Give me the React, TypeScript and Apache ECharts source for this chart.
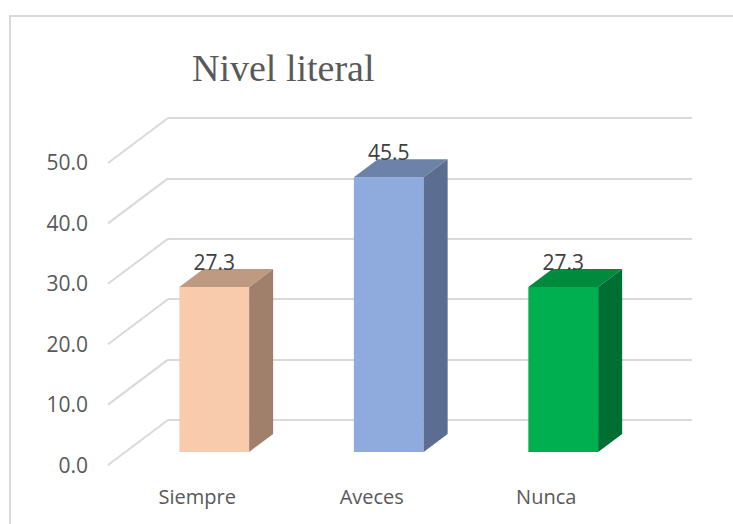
import React, { useEffect, useRef } from "react";
import * as echarts from "echarts";

const titleText = "Nivel literal";
const categories = ["Siempre", "Aveces", "Nunca"];
const values = [27.3, 45.5, 27.3];
const valueTicks = [0, 10, 20, 30, 40, 50];
const frontColors = ["#F8CBAD", "#8FAADC", "#00B050"];
const topColors = ["#BE9A82", "#6C82A8", "#008A3E"];
const sideColors = ["#A0806A", "#5B6E91", "#006F33"];

const W = 733;
const H = 524;
const DEPTH_X = 24;
const DEPTH_Y = 18;
const FLOOR_X = 60;
const FLOOR_Y = 45;
const GRID_COLOR = "#D9D9D9";

const axisOff = { show: false };

export default function App() {
  const ref = useRef<HTMLDivElement>(null);
  useEffect(() => {
    const chart = echarts.init(ref.current!, undefined, { renderer: "svg" });
    chart.setOption({
      animation: false,
      backgroundColor: "#ffffff",
      title: {
        text: titleText,
        left: 187,
        top: 44,
        textStyle: { fontFamily: "Liberation Serif", fontSize: 38, fontWeight: "normal", color: "#595959" },
      },
      graphic: [
        { type: "line", shape: { x1: 9, y1: 16, x2: W, y2: 16 }, style: { stroke: GRID_COLOR, lineWidth: 2 } },
        { type: "line", shape: { x1: 10, y1: 15, x2: 10, y2: H }, style: { stroke: GRID_COLOR, lineWidth: 2 } },
      ],
      grid: [
        { left: 127, width: 523.5, top: 150, height: 302 },
        { left: 168, width: 524, top: 118, height: 302 },
        { left: 110, width: 523.5, top: 162, height: 303 },
      ],
      xAxis: [
        { gridIndex: 0, type: "category", data: categories, ...axisOff },
        { gridIndex: 1, type: "value", min: 0, max: 1, ...axisOff },
        {
          gridIndex: 2,
          type: "category",
          data: categories,
          axisLine: { show: false },
          axisTick: { show: false },
          axisLabel: { margin: 21, fontFamily: "Open Sans", fontSize: 20, color: "#595959" },
        },
      ],
      yAxis: [
        { gridIndex: 0, type: "value", min: 0, max: 50, interval: 10, ...axisOff },
        {
          gridIndex: 1,
          type: "value",
          min: 0,
          max: 50,
          interval: 10,
          axisLine: { show: false },
          axisTick: { show: false },
          axisLabel: { show: false },
          splitLine: { show: true, lineStyle: { color: GRID_COLOR, width: 2 } },
        },
        {
          gridIndex: 2,
          type: "value",
          min: 0,
          max: 50,
          interval: 10,
          axisLine: { show: false },
          axisTick: { show: false },
          splitLine: { show: false },
          axisLabel: {
            margin: 22,
            fontFamily: "Open Sans",
            fontSize: 21,
            color: "#595959",
            formatter: (v: number) => v.toFixed(1),
          },
        },
      ],
      series: [
        {
          type: "custom",
          xAxisIndex: 1,
          yAxisIndex: 1,
          coordinateSystem: "cartesian2d",
          clip: false,
          silent: true,
          z: 1,
          data: valueTicks.map((v) => [0, v]),
          renderItem: (_: any, api: any) => {
            const p = api.coord([api.value(0), api.value(1)]);
            return {
              type: "line",
              shape: { x1: p[0], y1: p[1], x2: p[0] - FLOOR_X, y2: p[1] + FLOOR_Y },
              style: { stroke: GRID_COLOR, lineWidth: 2, fill: "none" },
            };
          },
        },
        {
          type: "custom",
          xAxisIndex: 0,
          yAxisIndex: 0,
          coordinateSystem: "cartesian2d",
          clip: false,
          silent: true,
          z: 2,
          data: values.map((v, i) => [i, v]),
          encode: { x: 0, y: 1 },
          renderItem: (params: any, api: any) => {
            const i = params.dataIndex;
            const top = api.coord([api.value(0), api.value(1)]);
            const base = api.coord([api.value(0), 0]);
            const half = api.size([1, 0])[0] * 0.2;
            const l = top[0] - half;
            const r = top[0] + half;
            const t = top[1];
            const b = base[1];
            return {
              type: "group",
              children: [
                { type: "polygon", shape: { points: [[l, b], [r, b], [r, t], [l, t]] }, style: { fill: frontColors[i] } },
                {
                  type: "polygon",
                  shape: { points: [[l, t], [r, t], [r + DEPTH_X, t - DEPTH_Y], [l + DEPTH_X, t - DEPTH_Y]] },
                  style: { fill: topColors[i] },
                },
                {
                  type: "polygon",
                  shape: { points: [[r, t], [r + DEPTH_X, t - DEPTH_Y], [r + DEPTH_X, b - DEPTH_Y], [r, b]] },
                  style: { fill: sideColors[i] },
                },
                {
                  type: "text",
                  style: {
                    text: api.value(1).toFixed(1),
                    x: top[0],
                    y: t - 25,
                    align: "center",
                    verticalAlign: "middle",
                    fontFamily: "Open Sans",
                    fontSize: 21,
                    fill: "#404040",
                  },
                },
              ],
            };
          },
        },
      ],
    });
    return () => chart.dispose();
  }, []);
  return <div ref={ref} style={{ position: "absolute", left: 0, top: 0, width: W, height: H }} />;
}
